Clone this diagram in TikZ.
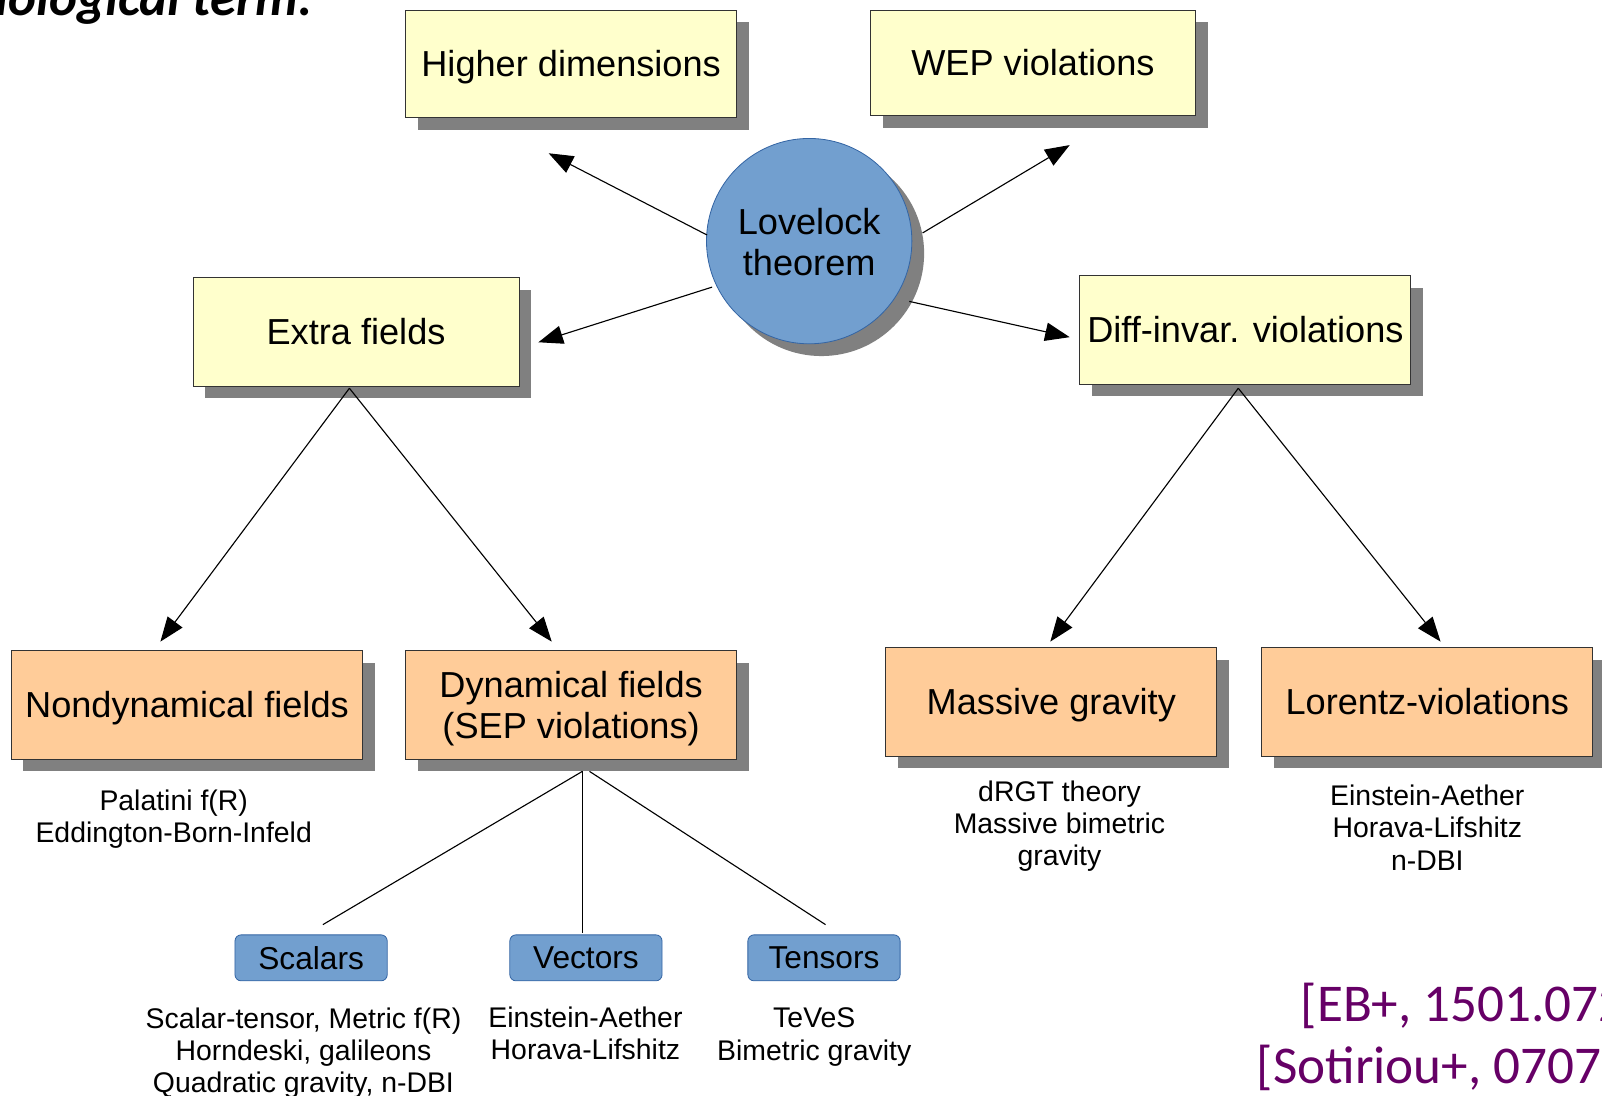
\documentclass[tikz,border=0pt]{standalone}
\usepackage{fontspec}
\setmainfont{Liberation Sans}
\newfontfamily\carlito{Carlito}
\usetikzlibrary{shadows,arrows.meta}
\definecolor{boxyellow}{HTML}{FFFFCC}
\definecolor{boxorange}{HTML}{FFCC99}
\definecolor{lblue}{HTML}{729FCF}
\definecolor{dblue}{HTML}{3465A4}
\definecolor{shadowgray}{HTML}{808080}
\definecolor{refpurple}{HTML}{660066}
\definecolor{boxborder}{HTML}{333333}
\begin{document}
\begin{tikzpicture}[x=1pt,y=-1pt,
  shad/.style={drop shadow={shadow xshift=12pt,shadow yshift=-12pt,fill=shadowgray,opacity=1}},
  bigbox/.style={shad,draw=boxborder,line width=1pt,inner sep=0pt,minimum height=106pt,align=center,
     font=\fontsize{35.4}{40}\selectfont},
  onel/.style={text height=25.3pt,text depth=0pt,yshift=-1pt},
  ybox/.style={bigbox,fill=boxyellow},
  obox/.style={bigbox,fill=boxorange},
  sbox/.style={draw=dblue,fill=lblue,line width=0.8pt,rounded corners=6pt,minimum width=149pt,minimum height=45pt,inner sep=0pt,
     font=\fontsize{31}{36}\selectfont},
  sub/.style={align=center,inner sep=0pt,font=\fontsize{27.8}{31.5}\selectfont},
  conn/.style={line width=1.1pt,black},
  arr/.style={conn,-{Triangle[length=24pt,width=18pt]}},
  twol/.style={align=center,inner sep=0pt,font=\fontsize{35.4}{40}\selectfont}
]
\useasboundingbox (0,0) rectangle (1568,1072);

% cut-off slide texts
\node[anchor=base east,inner sep=0pt,font=\carlito\bfseries\itshape\fontsize{52}{60}\selectfont] (ttl) at (306,14.7) {iological term.};
\node[anchor=base west,inner sep=0pt,text=refpurple,font=\carlito\fontsize{52}{60}\selectfont] (ref1) at (1273,1000) {[EB+, 1501.07274]};
\node[anchor=base west,inner sep=0pt,text=refpurple,font=\carlito\fontsize{52}{60}\selectfont] (ref2) at (1230,1060) {[Sotiriou+, 0707.2748]};

% boxes (centres given; onel shifts whole node 1pt, so centres compensate)
\node[ybox,onel,minimum width=324pt,minimum height=105pt] (hd) at (559,61.5) {Higher dimensions};
\node[ybox,onel,minimum width=318pt,minimum height=103pt] (wep) at (1011,60.5) {WEP violations};
\node[ybox,onel,minimum width=319pt] (ef) at (348.5,324) {Extra fields};
\node[ybox,onel,minimum width=324pt] (diff) at (1219,322) {Diff-invar. violations};
\node[shad,circle,draw=dblue,fill=lblue,line width=0.8pt,minimum size=201pt,inner sep=0pt,
   label={[twol,yshift=-1pt]center:Lovelock\\theorem}] (lov) at (792,236) {};

\node[obox,onel,minimum width=344pt] (nd) at (183,689) {Nondynamical fields};
\node[obox,minimum width=324pt,
   label={[twol,yshift=-3.5pt]center:Dynamical fields\\(SEP violations)}] (dyn) at (559,690) {};
\node[obox,onel,minimum width=324pt] (mg) at (1029,686) {Massive gravity};
\node[obox,onel,minimum width=324pt] (lv) at (1397,686) {Lorentz-violations};

\node[sbox] (sc) at (304.5,937.5) {Scalars};
\node[sbox] (ve) at (573.5,937.5) {Vectors};
\node[sbox] (te) at (806.5,937.5) {Tensors};

% sub-texts
\node[sub] (ndt) at (170,802) {Palatini f(R)\\Eddington-Born-Infeld};
\node[sub] (mgt) at (1037,808.5) {dRGT theory\\Massive bimetric\\gravity};
\node[sub] (lvt) at (1397,810) {Einstein-Aether\\Horava-Lifshitz\\n-DBI};
\node[sub] (sct) at (297,1030.5) {Scalar-tensor, Metric f(R)\\Horndeski, galileons\\Quadratic gravity, n-DBI};
\node[sub] (vet) at (573,1011.5) {Einstein-Aether\\Horava-Lifshitz};
\node[sub] (tet) at (797,1015) {TeVeS\\Bimetric gravity};

% connector end points
\coordinate (a1s) at (692,230); \coordinate (a1e) at (537,150);
\coordinate (a2s) at (903,228); \coordinate (a2e) at (1047,142);
\coordinate (a3s) at (697,281); \coordinate (a3e) at (527,335);
\coordinate (a4s) at (890,295); \coordinate (a4e) at (1047,330);
\coordinate (b0) at (342,380); \coordinate (b1e) at (157,628); \coordinate (b2e) at (540,628);
\coordinate (c0) at (1212,380); \coordinate (c1e) at (1028,628); \coordinate (c2e) at (1410,628);
\coordinate (d0) at (570,755); \coordinate (d0b) at (577,755);
\coordinate (d1e) at (316,905); \coordinate (d2e) at (570,913); \coordinate (d3e) at (808,905);

\draw[arr] (a1s) -- (a1e);
\draw[arr] (a2s) -- (a2e);
\draw[arr] (a3s) -- (a3e);
\draw[arr] (a4s) -- (a4e);
\draw[arr] (b0) -- (b1e);
\draw[arr] (b0) -- (b2e);
\draw[arr] (c0) -- (c1e);
\draw[arr] (c0) -- (c2e);
\draw[conn] (d0) -- (d1e);
\draw[conn] (d0) -- (d2e);
\draw[conn] (d0b) -- (d3e);
\end{tikzpicture}
\end{document}
